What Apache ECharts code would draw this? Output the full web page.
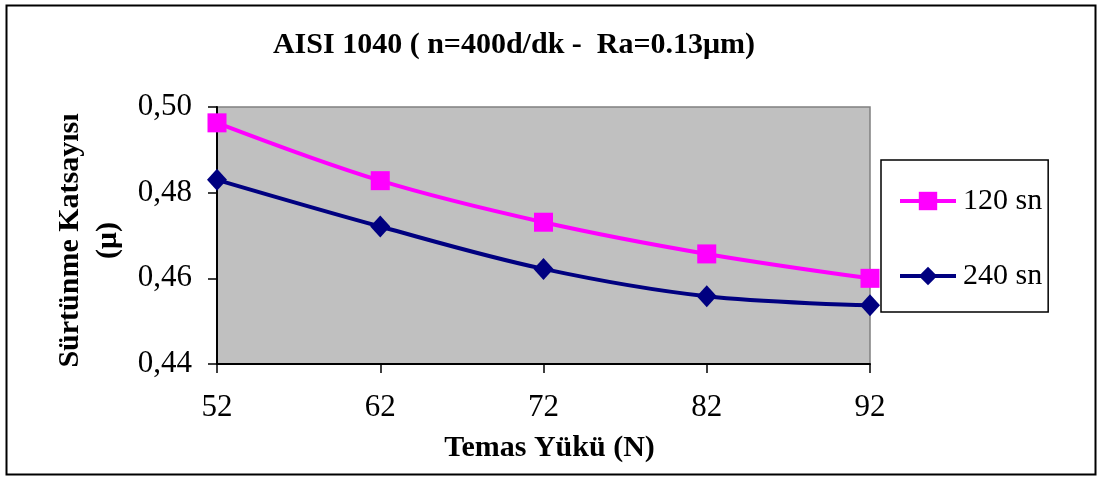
<!DOCTYPE html>
<html>
<head>
<meta charset="utf-8">
<script src="https://cdn.jsdelivr.net/npm/echarts@6/dist/echarts.min.js"></script>
<style>
html,body{margin:0;padding:0;background:#fff;}
#chart{width:1097px;height:477px;}
</style>
</head>
<body>
<div id="chart"></div>
<script>
const categories = ['52', '62', '72', '82', '92'];
const series120 = [0.4963, 0.4828, 0.4731, 0.4657, 0.4600];
const series240 = [0.4830, 0.4721, 0.4622, 0.4558, 0.4537];
const seriesNames = ['120 sn', '240 sn'];
const titleText = 'AISI 1040 ( n=400d/dk -  Ra=0.13μm)';
const xTitle = 'Temas Yükü (N)';
const yTitleLines = ['Sürtünme Katsayısı', '(μ)'];

const FONT = '"Liberation Serif", "Times New Roman", serif';
const chart = echarts.init(document.getElementById('chart'), null, {renderer: 'canvas'});

chart.setOption({
  backgroundColor: '#ffffff',
  animation: false,
  title: {
    text: titleText,
    left: 514,
    top: 30,
    padding: 0,
    textAlign: 'center',
    textStyle: {fontFamily: FONT, fontWeight: 'bold', fontSize: 30, color: '#000', lineHeight: 30}
  },
  graphic: [
    {type: 'rect', left: 4, top: 3, shape: {width: 1089, height: 469}, style: {fill: 'none', stroke: '#000', lineWidth: 2}, z: -1}
  ],
  legend: {
    orient: 'vertical',
    left: 881,
    top: 160,
    padding: [26, 6, 21, 17],
    itemWidth: 56,
    itemHeight: 23,
    itemGap: 45,
    borderColor: '#000',
    borderWidth: 1.5,
    backgroundColor: '#fff',
    lineStyle: {width: 4},
    textStyle: {fontFamily: FONT, fontSize: 30, color: '#000', padding: [0, 0, 0, 2]},
    data: seriesNames
  },
  grid: {
    left: 217, right: 227, top: 107, bottom: 113,
    show: true,
    backgroundColor: '#C0C0C0',
    borderColor: '#808080',
    borderWidth: 1.5
  },
  xAxis: {
    type: 'category',
    data: categories,
    boundaryGap: false,
    name: xTitle,
    nameLocation: 'middle',
    nameGap: 69,
    nameTextStyle: {fontFamily: FONT, fontWeight: 'bold', fontSize: 30, color: '#000', lineHeight: 30, padding: [0, 0, 0, 12]},
    axisLine: {lineStyle: {color: '#000', width: 2}},
    axisTick: {show: true, length: 9, lineStyle: {color: '#000', width: 1.5}},
    axisLabel: {fontFamily: FONT, fontSize: 31, color: '#000', margin: 28, lineHeight: 31},
    splitLine: {show: false}
  },
  yAxis: {
    type: 'value',
    min: 0.44,
    max: 0.50,
    interval: 0.02,
    name: yTitleLines.join('\n'),
    nameLocation: 'middle',
    nameGap: 88,
    nameTextStyle: {fontFamily: FONT, fontWeight: 'bold', fontSize: 30, color: '#000', lineHeight: 38, align: 'center', padding: [0, 10, 0, 0]},
    axisLine: {show: true, lineStyle: {color: '#000', width: 2}},
    axisTick: {show: true, length: 9, lineStyle: {color: '#000', width: 1.5}},
    axisLabel: {
      fontFamily: FONT, fontSize: 31, color: '#000', margin: 25,
      formatter: v => v.toFixed(2).replace('.', ',')
    },
    splitLine: {show: false}
  },
  series: [
    {
      name: seriesNames[0],
      type: 'line',
      data: series120,
      smooth: 0.35,
      symbol: 'rect',
      symbolSize: 19,
      itemStyle: {color: '#FF00FF'},
      lineStyle: {color: '#FF00FF', width: 4},
      z: 3
    },
    {
      name: seriesNames[1],
      type: 'line',
      data: series240,
      smooth: 0.35,
      symbol: 'diamond',
      symbolSize: [20, 22],
      itemStyle: {color: '#000080'},
      lineStyle: {color: '#000080', width: 4},
      z: 2
    }
  ]
});
</script>
</body>
</html>
